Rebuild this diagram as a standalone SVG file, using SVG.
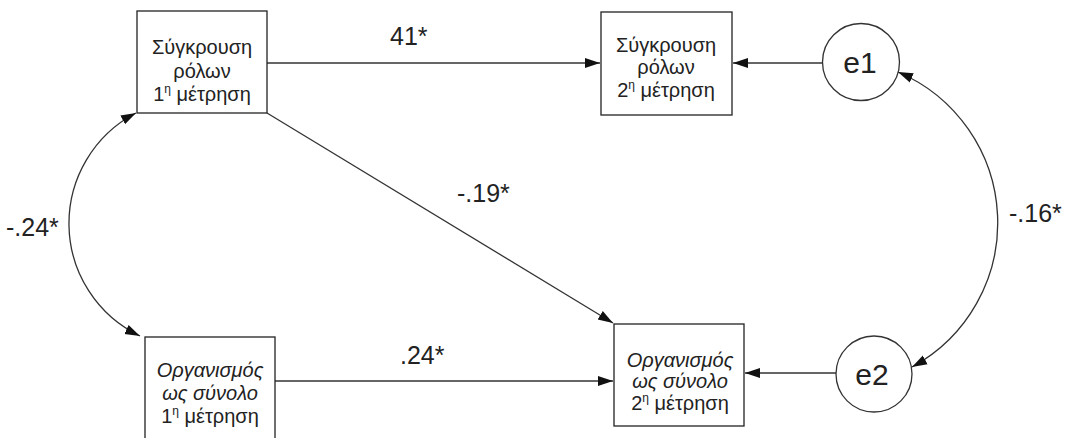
<svg xmlns="http://www.w3.org/2000/svg" width="1073" height="438" viewBox="0 0 1073 438">
<style>
.box{fill:#fff;stroke:#222;stroke-width:1.3}
.circ{fill:#fff;stroke:#333;stroke-width:1.3}
.t{font-family:"Liberation Sans",Arial,sans-serif;font-size:20px;fill:#222;text-anchor:middle}
.it{font-style:italic}
.sup{font-size:12px}
.lbl{font-family:"Liberation Sans",Arial,sans-serif;font-size:25px;fill:#222}
.e{font-family:"Liberation Sans",Arial,sans-serif;font-size:30px;fill:#222;text-anchor:middle}
.c{fill:none;stroke:#333;stroke-width:1.3}
</style>
<defs>
<marker id="ah" markerUnits="userSpaceOnUse" markerWidth="16" markerHeight="12" refX="15" refY="5" orient="auto-start-reverse" viewBox="0 0 16 10">
<path d="M0,0 L15,5 L0,10 Z" fill="#111"/>
</marker>
</defs>
<g id="connectors">
<line class="c" x1="267" y1="63" x2="600" y2="63" marker-end="url(#ah)"/>
<line class="c" x1="822" y1="63" x2="733" y2="63" marker-end="url(#ah)"/>
<line class="c" x1="267" y1="113" x2="613" y2="323" marker-end="url(#ah)"/>
<line class="c" x1="275" y1="381" x2="613" y2="381" marker-end="url(#ah)"/>
<line class="c" x1="836" y1="373" x2="745" y2="373" marker-end="url(#ah)"/>
<path class="c" d="M136,113 A124.6,124.6 0 0 0 140,336" marker-start="url(#ah)" marker-end="url(#ah)"/>
<path class="c" d="M898,72 A164,164 0 0 1 912,367" marker-start="url(#ah)" marker-end="url(#ah)"/>
</g>
<g id="labels">
<text class="lbl" x="390" y="45">41*</text>
<text class="lbl" x="457" y="202">-.19*</text>
<text class="lbl" x="400" y="364">.24*</text>
<text class="lbl" x="6" y="236">-.24*</text>
<text class="lbl" x="1009" y="222">-.16*</text>
</g>
<g id="box1">
<rect class="box" x="137" y="11" width="130" height="102"/>
<text class="t" x="202" y="54">Σύγκρουση</text>
<text class="t" x="202" y="78">ρόλων</text>
<text class="t" x="202" y="101">1<tspan class="sup" dy="-8">η</tspan><tspan dy="8"> μέτρηση</tspan></text>
</g>
<g id="box2">
<rect class="box" x="601" y="12" width="131" height="103"/>
<text class="t" x="666" y="52">Σύγκρουση</text>
<text class="t" x="666" y="74">ρόλων</text>
<text class="t" x="666" y="97">2<tspan class="sup" dy="-8">η</tspan><tspan dy="8"> μέτρηση</tspan></text>
</g>
<g id="box3">
<rect class="box" x="145" y="337" width="130" height="110"/>
<text class="t it" x="210" y="377">Οργανισμός</text>
<text class="t it" x="210" y="400">ως σύνολο</text>
<text class="t" x="210" y="423">1<tspan class="sup" dy="-8">η</tspan><tspan dy="8"> μέτρηση</tspan></text>
</g>
<g id="box4">
<rect class="box" x="614" y="324" width="130" height="102"/>
<text class="t it" x="680" y="367">Οργανισμός</text>
<text class="t it" x="680" y="388">ως σύνολο</text>
<text class="t" x="680" y="410">2<tspan class="sup" dy="-8">η</tspan><tspan dy="8"> μέτρηση</tspan></text>
</g>
<g id="e1">
<circle class="circ" cx="861" cy="62" r="38.5"/>
<text class="e" x="860" y="73">e1</text>
</g>
<g id="e2">
<circle class="circ" cx="874" cy="374" r="38"/>
<text class="e" x="872" y="385">e2</text>
</g>
</svg>
